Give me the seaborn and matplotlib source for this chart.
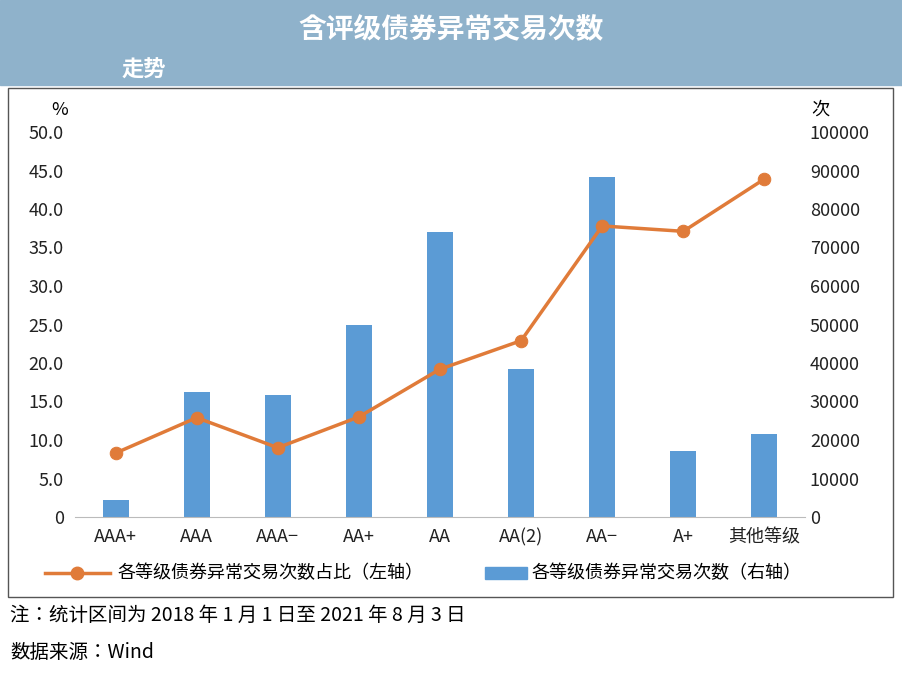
import numpy as np
import matplotlib.pyplot as plt
import seaborn as sns
from matplotlib import font_manager
from matplotlib.patches import Rectangle

cjk = [f.name for f in font_manager.fontManager.ttflist if 'CJK' in f.name]
cjk_name = next((n for n in cjk if 'SC' in n), cjk[0] if cjk else 'DejaVu Sans')
plt.rcParams['font.family'] = [cjk_name, 'DejaVu Sans']
plt.rcParams['axes.unicode_minus'] = False

categories = ['AAA+', 'AAA', 'AAA−', 'AA+', 'AA', 'AA(2)', 'AA−', 'A+', '其他等级']
counts = [4400, 32500, 31700, 49900, 74000, 38400, 88300, 17100, 21600]
share = [8.3, 12.9, 9.0, 13.0, 19.2, 22.9, 37.8, 37.1, 43.9]

W, H = 903, 673
fig = plt.figure(figsize=(W / 100, H / 100), dpi=100)

# banner
fig.patches.append(Rectangle((0, 1 - 85 / H), 1, 85 / H, transform=fig.transFigure,
                             color='#8fb2cb', zorder=0))
fig.text(0.5, 1 - 30 / H, '含评级债券异常交易次数', color='white', fontsize=20,
         ha='center', va='center', fontweight='bold')
fig.text(0.135, 1 - 70 / H, '走势', color='white', fontsize=16, ha='left', va='center',
         fontweight='bold')
# frame
fig.patches.append(Rectangle((8 / W, 1 - 597 / H), 885 / W, 509 / H, transform=fig.transFigure,
                             fill=False, edgecolor='#555555', lw=1))

ax = fig.add_axes([75 / W, 1 - 517 / H, 730 / W, 385 / H])
ax2 = ax.twinx()
x = np.arange(len(categories))
sns.barplot(x=x, y=counts, ax=ax2, color='#5b9bd5', saturation=1, width=0.32, native_scale=True)
ax2.set_ylim(0, 100000)
ax2.set_yticks(np.arange(0, 100001, 10000))
ax2.set_yticklabels(['0'] + [str(v) for v in range(10000, 100001, 10000)])

sns.lineplot(x=x, y=share, ax=ax, color='#e07b39', lw=2.5, marker='o', markersize=9,
             markeredgecolor='#e07b39')
ax.set_zorder(ax2.get_zorder() + 1)
ax.patch.set_visible(False)
ax.set_ylim(0, 50)
ax.set_yticks(np.arange(0, 50.1, 5))
ax.set_yticklabels(['0'] + [f'{v:.1f}' for v in np.arange(5, 50.1, 5)])
ax.set_xlim(-0.5, len(categories) - 0.5)
ax.set_xticks(x)
ax.set_xticklabels(categories)
for a in (ax, ax2):
    a.tick_params(length=0, labelsize=13, colors='#222222')
    a.set_ylabel('')
    for s in a.spines.values():
        s.set_visible(False)
ax.spines['bottom'].set_visible(True)
ax.spines['bottom'].set_color('#bbbbbb')
ax.tick_params(axis='x', pad=8)
ax.tick_params(axis='y', pad=8)
fig.text(60 / W, 1 - 110 / H, '%', fontsize=13, ha='center', va='center')
fig.text(820 / W, 1 - 110 / H, '次', fontsize=13, ha='center', va='center')

# legend
ln = plt.Line2D([45 / W, 77 / W, 110 / W], [1 - 573 / H] * 3, transform=fig.transFigure,
                color='#e07b39', lw=2.5, marker='o', markersize=9, markevery=[1])
fig.lines.append(ln)
fig.text(118 / W, 1 - 573 / H, '各等级债券异常交易次数占比（左轴）', fontsize=13, va='center')
fig.patches.append(Rectangle((485 / W, 1 - 579 / H), 42 / W, 12 / H, transform=fig.transFigure,
                             color='#5b9bd5'))
fig.text(532 / W, 1 - 573 / H, '各等级债券异常交易次数（右轴）', fontsize=13, va='center')

fig.text(10 / W, 1 - 615 / H, '注：统计区间为 2018 年 1 月 1 日至 2021 年 8 月 3 日', fontsize=14, va='center')
fig.text(10 / W, 1 - 652 / H, '数据来源：Wind', fontsize=14, va='center')

fig.savefig('out.png', dpi=100)
